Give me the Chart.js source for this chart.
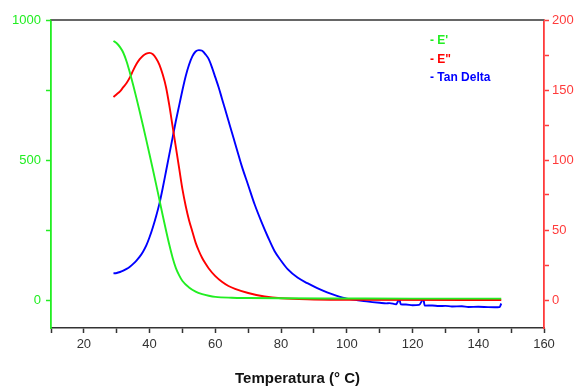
<!DOCTYPE html>
<html>
<head>
<meta charset="utf-8">
<script src="https://cdn.jsdelivr.net/npm/chart.js@4"></script>
<style>
  html, body { margin: 0; padding: 0; background: #fff; }
  #wrap { width: 581px; height: 387px; position: relative; }
</style>
</head>
<body>
<div id="wrap"><canvas id="c" width="581" height="387"></canvas></div>
<script>
// ---- data ----
const legendLabels = ["- E'", '- E"', "- Tan Delta"];
const xTitle = "Temperatura (° C)";

const xTicks = [10, 20, 30, 40, 50, 60, 70, 80, 90, 100, 110, 120, 130, 140, 150, 160];
const leftTicks = [0, 250, 500, 750, 1000];
const rightTicks = [0, 25, 50, 75, 100, 125, 150, 175, 200];

// E' (left axis)
const tE1 = [29, 30, 31, 32, 33, 34, 35, 36, 37, 38, 39, 40, 41, 42, 43, 44, 45, 46, 47, 48, 49, 50, 52, 54, 56, 58, 60, 65, 70, 80, 100, 120, 147];
const vE1 = [925, 917, 903, 883, 852, 812, 768, 721, 672, 622, 571, 519, 466, 412, 357, 302, 248, 197, 151, 114, 88, 68, 45, 30, 21, 15, 11, 8, 7, 6, 5.5, 5, 5];

// E" (right axis)
const tE2 = [29, 30, 31, 32, 33, 34, 35, 36, 37, 38, 39, 40, 41, 42, 43, 44, 45, 46, 47, 48, 49, 50, 51, 52, 53, 54, 55, 56, 57, 58, 60, 62, 64, 66, 70, 75, 80, 90, 100, 147];
const vE2 = [145, 147, 149, 152, 155, 159, 164, 168.5, 172, 174.5, 176, 176.5, 175.5, 172.5, 168, 161, 152, 139, 124, 109, 94, 79, 67, 57, 49, 41, 35, 30, 26, 22.5, 17, 13, 10, 8, 5, 2.5, 1.2, 0.4, 0.1, 0];

// Tan Delta (right axis)
const tTan = [29, 30, 31, 32, 33, 34, 35, 36, 37, 38, 39, 40, 41, 42, 43, 44, 45, 46, 47, 48, 49, 50, 51, 52, 53, 54, 55, 56, 57, 58, 59, 60, 61, 62, 63, 64, 65, 66, 67, 68, 70, 72, 74, 76, 78, 80, 82, 85, 88, 91, 94, 97, 100, 103, 106, 110, 112, 113, 115, 116, 116.4, 118, 120, 122, 123.3, 123.7, 126, 128, 130, 132, 135, 137, 140, 143, 145, 146.5, 147];
const vTan = [19, 19.3, 20, 21, 22.2, 23.8, 25.8, 28.2, 31, 34.5, 39, 45, 52, 60, 69, 80, 92, 104, 116, 128, 139, 150, 160, 168, 174, 177.5, 178.5, 178, 175.5, 172, 166, 159, 152, 144, 136, 128, 120, 112, 104, 96, 82, 68, 56, 45, 35, 28, 22, 16, 12, 8.5, 5.5, 3, 1, 0, -1, -2, -2.4, -2.2, -3, 0.5, -3, -3.2, -3.8, -3.5, 0.5, -4, -3.9, -4.3, -4.2, -4.6, -4.5, -5, -4.8, -5.1, -5.2, -5, -2.5];

const GREEN = '#22ee22';
const RED = '#ff0000';
const RED_AX = '#ff3b3b';
const BLUE = '#0000ff';

const pts = (xs, ys) => xs.map((x, i) => ({x: x, y: ys[i]}));

const topBorder = {
  id: 'topBorder',
  afterDraw(chart) {
    const {ctx, chartArea} = chart;
    ctx.save();
    ctx.strokeStyle = '#666666';
    ctx.lineWidth = 2;
    ctx.beginPath();
    ctx.moveTo(chartArea.left, chartArea.top);
    ctx.lineTo(chartArea.right, chartArea.top);
    ctx.stroke();
    // legend
    ctx.font = 'bold 12px "Liberation Sans", Arial, sans-serif';
    ctx.textBaseline = 'middle';
    ctx.textAlign = 'left';
    const cols = [GREEN, RED, BLUE];
    const ys = [41, 60, 78];
    legendLabels.forEach((t, i) => {
      ctx.fillStyle = cols[i];
      ctx.fillText(t, 430, ys[i]);
    });
    ctx.restore();
  }
};

const FONT = {family: '"Liberation Sans", Arial, sans-serif', size: 13};

new Chart(document.getElementById('c'), {
  type: 'line',
  data: {
    datasets: [
      {label: legendLabels[0], data: pts(tE1, vE1), yAxisID: 'y', borderColor: GREEN, borderWidth: 1.9, pointRadius: 0, cubicInterpolationMode: 'monotone', fill: false},
      {label: legendLabels[1], data: pts(tE2, vE2), yAxisID: 'y1', borderColor: RED, borderWidth: 1.9, pointRadius: 0, cubicInterpolationMode: 'monotone', fill: false},
      {label: legendLabels[2], data: pts(tTan, vTan), yAxisID: 'y1', borderColor: BLUE, borderWidth: 1.9, pointRadius: 0, cubicInterpolationMode: 'monotone', fill: false}
    ]
  },
  options: {
    responsive: false,
    animation: false,
    layout: {padding: {top: 20, left: 0, right: 0, bottom: 0}},
    plugins: {legend: {display: false}, tooltip: {enabled: false}},
    scales: {
      x: {
        type: 'linear', min: 10, max: 160,
        afterBuildTicks: s => { s.ticks = xTicks.map(v => ({value: v})); },
        afterFit: s => { s.height = 59; },
        ticks: {color: '#333', font: FONT, padding: 4, maxRotation: 0,
          callback: v => (v % 20 === 0 && v !== 10 ? String(v) : '')},
        grid: {drawOnChartArea: false, drawTicks: true, tickLength: 5, tickColor: '#333', tickWidth: 1.5},
        border: {color: '#333', width: 1.5},
        title: {display: true, text: xTitle, color: '#111',
          font: {family: '"Liberation Sans", Arial, sans-serif', size: 15, weight: 'bold'},
          padding: {top: 0, bottom: -1}}
      },
      y: {
        type: 'linear', position: 'left', min: -100, max: 1000,
        afterBuildTicks: s => { s.ticks = leftTicks.map(v => ({value: v})); },
        afterFit: s => { s.width = 51; },
        ticks: {color: GREEN, font: FONT, padding: 5,
          callback: v => (v % 500 === 0 ? String(v) : '')},
        grid: {drawOnChartArea: false, drawTicks: true, tickLength: 5, tickColor: GREEN, tickWidth: 1.5},
        border: {color: GREEN, width: 1.8}
      },
      y1: {
        type: 'linear', position: 'right', min: -20, max: 200,
        afterBuildTicks: s => { s.ticks = rightTicks.map(v => ({value: v})); },
        afterFit: s => { s.width = 37; },
        ticks: {color: RED_AX, font: FONT, padding: 3,
          callback: v => (v % 50 === 0 ? String(v) : '')},
        grid: {drawOnChartArea: false, drawTicks: true, tickLength: 5, tickColor: RED_AX, tickWidth: 1.5},
        border: {color: RED_AX, width: 1.8}
      }
    }
  },
  plugins: [topBorder]
});
</script>
</body>
</html>
